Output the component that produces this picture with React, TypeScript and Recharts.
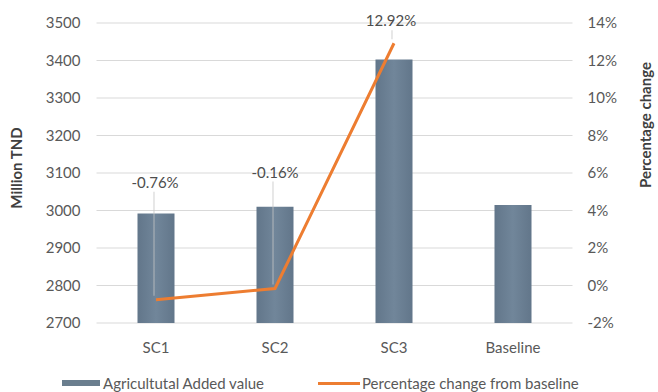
import React from 'react';
import {
  ComposedChart,
  Bar,
  Line,
  XAxis,
  YAxis,
  CartesianGrid,
  Legend,
  LabelList,
} from 'recharts';

const categories = ['SC1', 'SC2', 'SC3', 'Baseline'];
const addedValue = [2992, 3010, 3403, 3015];
const pctChange: (number | null)[] = [-0.76, -0.16, 12.92, null];
const leftTicks = [2700, 2800, 2900, 3000, 3100, 3200, 3300, 3400, 3500];
const rightTicks = [-2, 0, 2, 4, 6, 8, 10, 12, 14];

const barName = 'Agricultutal Added value';
const lineName = 'Percentage change from baseline';

const data = categories.map((c, i) => ({
  name: c,
  value: addedValue[i],
  pct: pctChange[i],
}));

// label placement (style only)
const labelDy = [-118, -117, -23, 0];
const labelDx = [-1, 0, -3, 0];

const FONT = 'Lato, "Open Sans", sans-serif';
const TICK_COLOR = '#595959';
const BAR_COLOR = '#6a7e8e';
const LINE_COLOR = '#ED7D31';

const PctLabel = (props: any) => {
  const { x, y, index, value } = props;
  if (value === null || value === undefined) return null;
  const ly = y + labelDy[index];
  const lx = x + labelDx[index];
  return (
    <g>
      <line
        x1={x - 2}
        x2={x - 2}
        y1={ly + 10}
        y2={y - 4}
        stroke="#c4c4c4"
        strokeOpacity={0.8}
        strokeWidth={1}
      />
      <text
        x={lx}
        y={ly}
        textAnchor="middle"
        dominantBaseline="central"
        fontFamily={FONT}
        fontSize={15}
        fill="#4d4d4d"
      >
        {`${Number(value).toFixed(2)}%`}
      </text>
    </g>
  );
};

const LeftTitle = (props: any) => {
  const vb = props.viewBox || {};
  const x = vb.x + 11;
  const y = vb.y + vb.height / 2 - 5;
  return (
    <text
      x={x}
      y={y}
      transform={`rotate(-90, ${x}, ${y})`}
      textAnchor="middle"
      dominantBaseline="central"
      fontFamily={FONT}
      fontWeight="bold"
      fontSize={15}
      fill="#404040"
    >
      Million TND
    </text>
  );
};

const RightTitle = (props: any) => {
  const vb = props.viewBox || {};
  const x = vb.x + vb.width - 8;
  const y = vb.y + vb.height / 2 - 48;
  return (
    <text
      x={x}
      y={y}
      transform={`rotate(-90, ${x}, ${y})`}
      textAnchor="middle"
      dominantBaseline="central"
      fontFamily={FONT}
      fontWeight="bold"
      fontSize={15}
      fill="#404040"
    >
      Percentage change
    </text>
  );
};

const renderLegend = (props: any) => {
  const payload = props.payload || [];
  const barItem = payload.find((p: any) => p.value === barName) || { value: barName };
  const lineItem = payload.find((p: any) => p.value === lineName) || { value: lineName };
  const textStyle: React.CSSProperties = {
    position: 'absolute',
    top: 0,
    lineHeight: '22px',
    fontFamily: FONT,
    fontSize: 15,
    color: TICK_COLOR,
    whiteSpace: 'nowrap',
  };
  return (
    <div style={{ position: 'relative', width: 658, height: 22 }}>
      <div
        style={{
          position: 'absolute',
          left: 62,
          top: 8,
          width: 38,
          height: 6,
          background: BAR_COLOR,
        }}
      />
      <span style={{ ...textStyle, left: 103 }}>{barItem.value}</span>
      <div
        style={{
          position: 'absolute',
          left: 318,
          top: 10,
          width: 42,
          height: 3,
          background: LINE_COLOR,
        }}
      />
      <span style={{ ...textStyle, left: 362 }}>{lineItem.value}</span>
    </div>
  );
};

export default function App() {
  return (
    <div
      style={{
        position: 'absolute',
        left: 0,
        top: 0,
        width: 658,
        height: 392,
        background: '#ffffff',
      }}
    >
      <ComposedChart
        width={658}
        height={392}
        data={data}
        margin={{ top: 23, right: 5, bottom: 39, left: 5 }}
        barCategoryGap={0}
      >
        <defs>
          <linearGradient id="barGrad" x1="0" y1="0" x2="1" y2="0">
            <stop offset="0%" stopColor="#62768a" />
            <stop offset="50%" stopColor="#71869a" />
            <stop offset="100%" stopColor="#62768a" />
          </linearGradient>
        </defs>
        <CartesianGrid
          vertical={false}
          stroke="#d9d9d9"
          strokeWidth={1}
          yAxisId="left"
        />
        <XAxis
          dataKey="name"
          height={30}
          axisLine={false}
          tickLine={false}
          tickSize={6}
          tickMargin={13}
          tick={{ fill: TICK_COLOR, fontSize: 15, fontFamily: FONT }}
          interval={0}
        />
        <YAxis
          yAxisId="left"
          orientation="left"
          width={91.5}
          domain={[2700, 3500]}
          ticks={leftTicks}
          allowDataOverflow
          axisLine={false}
          tickLine={false}
          tickSize={6}
          tickMargin={10}
          tick={{ fill: TICK_COLOR, fontSize: 15, fontFamily: FONT }}
          label={{ content: LeftTitle }}
        />
        <YAxis
          yAxisId="right"
          orientation="right"
          width={80.5}
          domain={[-2, 14]}
          ticks={rightTicks}
          allowDataOverflow
          axisLine={false}
          tickLine={false}
          tickSize={6}
          tickMargin={9}
          tickFormatter={(v: number) => `${v}%`}
          tick={{ fill: TICK_COLOR, fontSize: 15, fontFamily: FONT }}
          label={{ content: RightTitle }}
        />
        <Bar
          yAxisId="left"
          dataKey="value"
          name={barName}
          fill="url(#barGrad)"
          barSize={37}
          isAnimationActive={false}
        />
        <Line
          yAxisId="right"
          type="linear"
          dataKey="pct"
          name={lineName}
          stroke={LINE_COLOR}
          strokeWidth={3}
          dot={false}
          activeDot={false}
          connectNulls={false}
          isAnimationActive={false}
        >
          <LabelList dataKey="pct" content={PctLabel} />
        </Line>
        <Legend
          layout="horizontal"
          verticalAlign="middle"
          align="center"
          wrapperStyle={{ top: 372, left: 0, width: 658, height: 22 }}
          content={renderLegend}
        />
      </ComposedChart>
    </div>
  );
}
